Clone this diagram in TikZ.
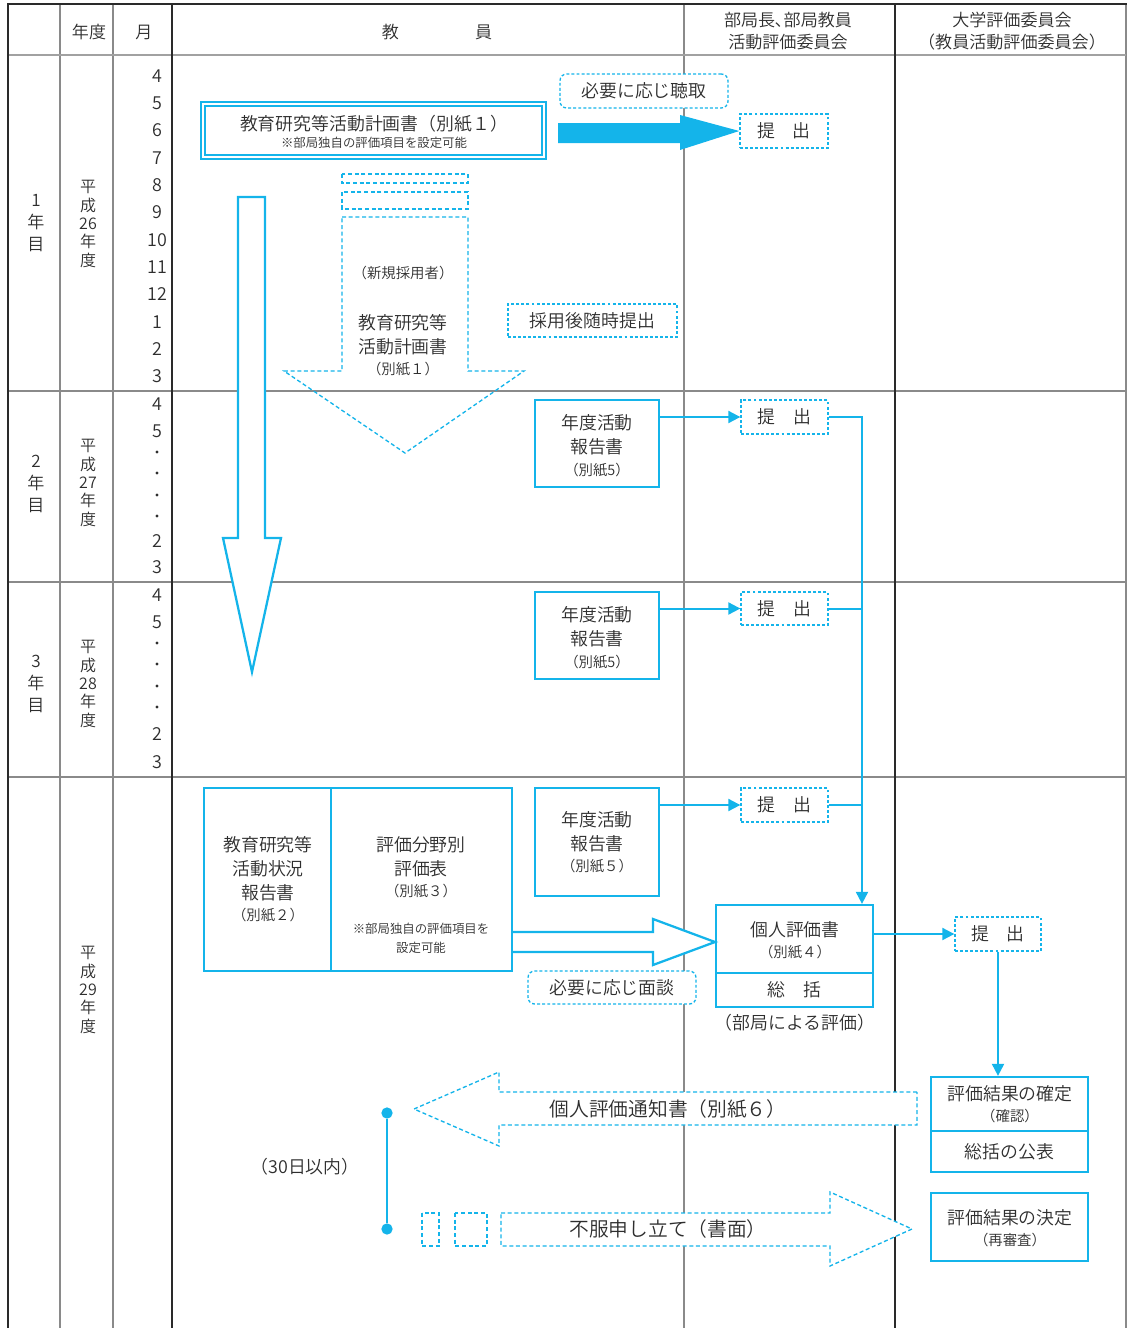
\documentclass[tikz,border=0pt]{standalone}
\usepackage{fontspec}
\setmainfont{Noto Sans CJK JP}[UprightFont=* DemiLight]
\usetikzlibrary{arrows.meta,fit,calc}
\definecolor{cy}{HTML}{14B4EA}
\definecolor{tx}{HTML}{2E2E2E}
\definecolor{gl}{HTML}{8A8A8A}
\definecolor{dk}{HTML}{2A2A2A}
\newcommand\fm{\fontsize{13.4}{18}\selectfont}
\newcommand\fs{\fontsize{10.8}{14}\selectfont}
\newcommand\fxs{\fontsize{9.3}{12}\selectfont}
\newcommand\fl{\fontsize{14.8}{18}\selectfont}
\newcommand\fv{\fontsize{12}{13.8}\selectfont}
\newcommand\fy{\fontsize{12.8}{16.5}\selectfont}
\begin{document}
\begin{tikzpicture}[x=0.75pt,y=-0.75pt,
  every node/.style={text=tx, inner sep=0pt},
  box/.style={draw=cy, line width=1.7pt, fill=white, inner sep=0pt},
  dbox/.style={draw=cy, line width=1pt, dash pattern=on 2.2pt off 1.6pt, fill=white, inner sep=0pt},
  rbox/.style={dbox, rounded corners=5pt},
  darrow/.style={draw=cy, line width=1pt, dash pattern=on 3pt off 2pt},
  conn/.style={draw=cy, line width=1.5pt},
  arr/.style={conn, -{Triangle[length=9pt,width=9pt]}},
  gridline/.style={draw=gl, line width=0.8pt},
  heavy/.style={draw=dk, line width=2.2pt},
  dot/.style={circle, fill=cy, minimum size=8.5pt, inner sep=0pt},
  sdot/.style={circle, fill=tx, minimum size=2.6pt, inner sep=0pt}]
\useasboundingbox (0,0) rectangle (1128,1328);
% grid
\foreach \x in {60,113,684,1126} \draw[gridline] (\x,5) -- (\x,1328);
\draw[draw=gl!80, line width=1.4pt] (8,55) -- (1126,55);
\foreach \y in {391,582,777} \draw[gridline] (8,\y) -- (1126,\y);
\draw[heavy, line width=1.6pt] (8,4) -- (8,1328);
\draw[heavy] (172,4) -- (172,1328);
\draw[heavy] (895,4) -- (895,1328);
\draw[heavy] (7,4) -- (1127,4);
% header
\node[font=\fy] (h1) at (89,32) {年度};
\node[font=\fy] (h2) at (144,32) {月};
\node[font=\fy] (h3) at (437,32) {教\hspace{57pt}員};
\node[align=center, font=\fy] (h4) at (788,31) {部局長､部局教員\\活動評価委員会};
\node[align=center, font=\fy] (h5) at (1012,31) {大学評価委員会\\（教員活動評価委員会）};
% months
\foreach \m/\y in {4/76,5/103,6/130,7/158,8/185,9/212,10/240,11/267,12/294,1/322,2/349,3/376,
  4/404,5/431,2/541,3/567,4/595,5/622,2/734,3/762}
  \node[font=\fm] (m\y) at (157,\y) {\m};
\foreach \y in {452,473,495,516,643,664,686,707} \node[sdot] (s\y) at (157,\y) {};
% year labels
\node[align=center, font=\fy] (y1) at (36,223) {1\\年\\目};
\node[align=center, font=\fy] (y2) at (36,484) {2\\年\\目};
\node[align=center, font=\fy] (y3) at (36,684) {3\\年\\目};
\node[align=center, font=\fv] (n1) at (88,224) {平\\成\\26\\年\\度};
\node[align=center, font=\fv] (n2) at (88,483) {平\\成\\27\\年\\度};
\node[align=center, font=\fv] (n3) at (88,684) {平\\成\\28\\年\\度};
\node[align=center, font=\fv] (n4) at (88,990) {平\\成\\29\\年\\度};
% plan box
\node[box, line width=1.2pt, fit={(201,102)(546,159)}] (planout) {};
\node[box, line width=1.2pt, fit={(205,106)(542,155)}] (plan) {};
\node[font=\fm] (plan1) at (374,124) {教育研究等活動計画書（別紙１）};
\node[font=\fxs] (plan2) at (374,143) {※部局独自の評価項目を設定可能};
\node[rbox, fit={(560,74)(728,108)}] (hear) {};
\node[font=\fm] (heartx) at (hear.center) {必要に応じ聴取};
\node[dbox, fit={(740,114)(828,148)}] (t1) {};
\node[font=\fm] (t1x) at (t1.center) {提　出};
\fill[cy] (558,123) -- (680,123) -- (680,115) -- (t1.west) -- (680,150) -- (680,143) -- (558,143) -- cycle;
% new hire dashed arrow
\draw[darrow] (342,174) rectangle (468,183);
\draw[darrow] (342,192) rectangle (468,209);
\draw[darrow] (342,217) -- (468,217) -- (468,371) -- (524,371) -- (405,453) -- (284,371) -- (342,371) -- cycle;
\node[font=\fs] (sk) at (403,273) {（新規採用者）};
\node[align=center, font=\fm] (skp) at (403,335) {教育研究等\\活動計画書};
\node[font=\fs] (skb) at (403,369) {（別紙１）};
\node[dbox, fit={(508,304)(677,337)}] (zuiji) {};
\node[font=\fm] (zuijix) at (zuiji.center) {採用後随時提出};
% vertical outline arrow
\filldraw[draw=cy, fill=white, line width=1.7pt] (238,197) -- (265,197) -- (265,538) -- (281,538) -- (252,672) -- (223,538) -- (238,538) -- cycle;
% row 2
\coordinate (vx) at (862,0);
\node[box, fit={(535,400)(659,487)}] (r2) {};
\node[align=center, font=\fm] (r2a) at (597,435) {年度活動\\報告書};
\node[font=\fs] (r2b) at (597,470) {（別紙5）};
\node[dbox, fit={(741,400)(828,434)}] (t2) {};
\node[font=\fm] (t2x) at (t2.center) {提　出};
\draw[arr] (r2.east |- t2.west) -- (t2.west);
% row 3
\node[box, fit={(535,592)(659,679)}] (r3) {};
\node[align=center, font=\fm] (r3a) at (597,627) {年度活動\\報告書};
\node[font=\fs] (r3b) at (597,662) {（別紙5）};
\node[dbox, fit={(741,592)(828,625)}] (t3) {};
\node[font=\fm] (t3x) at (t3.center) {提　出};
\draw[arr] (r3.east |- t3.west) -- (t3.west);
% row 4
\node[box, fit={(535,788)(659,896)}] (r4) {};
\node[align=center, font=\fm] (r4a) at (597,832) {年度活動\\報告書};
\node[font=\fs] (r4b) at (597,866) {（別紙５）};
\node[dbox, fit={(741,788)(828,822)}] (t4) {};
\node[font=\fm] (t4x) at (t4.center) {提　出};
\draw[arr] (r4.east |- t4.west) -- (t4.west);
% individual evaluation
\node[box, fit={(716,905)(873,973)}] (ind1) {};
\node[box, fit={(716,973)(873,1007)}] (ind2) {};
\node[font=\fm] (ind2x) at (ind2.center) {総　括};
\node[font=\fm] (ind1a) at (795,930) {個人評価書};
\node[font=\fs] (ind1b) at (795,952) {（別紙４）};
\node[font=\fm] (hyoka) at (795,1023) {（部局による評価）};
\draw[arr] (t2.east) -| (ind1.north -| vx);
\draw[conn] (t3.east) -- (t3.east -| vx);
\draw[conn] (t4.east) -- (t4.east -| vx);
% big box
\node[box, fit={(204,788)(331,971)}] (bigL) {};
\node[box, fit={(331,788)(512,971)}] (bigR) {};
\node[align=center, font=\fm] (bigLa) at (268,869) {教育研究等\\活動状況\\報告書};
\node[font=\fs] (bigLb) at (268,915) {（別紙２）};
\node[align=center, font=\fm] (bigRa) at (421,857) {評価分野別\\評価表};
\node[font=\fs] (bigRb) at (421,891) {（別紙３）};
\node[font=\fxs] (bigRc) at (421,929) {※部局独自の評価項目を};
\node[font=\fxs] (bigRd) at (421,948) {設定可能};
\filldraw[draw=cy, fill=white, line width=1.7pt] (bigR.east |- 0,932) -- (653,932) -- (653,919) -- (715,942) -- (653,965) -- (653,952) -- (bigR.east |- 0,952);
\node[rbox, fit={(528,971)(696,1004)}] (mendan) {};
\node[font=\fm] (mendanx) at (mendan.center) {必要に応じ面談};
% university committee
\node[dbox, fit={(955,917)(1041,951)}] (t5) {};
\node[font=\fm] (t5x) at (t5.center) {提　出};
\draw[arr] (ind1.east |- t5.west) -- (t5.west);
\node[box, fit={(931,1077)(1088,1131)}] (kak1) {};
\node[font=\fm] (kak1a) at (1010,1094) {評価結果の確定};
\node[font=\fs] (kak1b) at (1010,1116) {（確認）};
\node[box, fit={(931,1131)(1088,1172)}] (kak2) {};
\node[font=\fm] (kak2x) at (kak2.center) {総括の公表};
\draw[arr] (t5.south) -- (t5.south |- kak1.north);
\node[box, fit={(931,1193)(1088,1261)}] (ket) {};
\node[font=\fm] (keta) at (1010,1218) {評価結果の決定};
\node[font=\fs] (ketb) at (1010,1240) {（再審査）};
% notification arrows
\filldraw[darrow, fill=white] (917,1092) -- (499,1092) -- (499,1072) -- (414,1109) -- (499,1146) -- (499,1125) -- (917,1125) -- cycle;
\node[font=\fl] (tsuchi) at (668,1109) {個人評価通知書（別紙６）};
\filldraw[darrow, fill=white] (501,1213) -- (830,1213) -- (830,1192) -- (912,1229) -- (830,1266) -- (830,1246) -- (501,1246) -- cycle;
\draw[darrow] (422,1213) rectangle (439,1246);
\draw[darrow] (455,1213) rectangle (487,1246);
\node[font=\fl] (fufuku) at (668,1229) {不服申し立て（書面）};
\node[dot] (d1) at (387,1113) {};
\node[dot] (d2) at (387,1229) {};
\draw[conn, line width=2pt] (d1) -- (d2);
\node[font=\fm] (days) at (305,1167) {（30日以内）};
\end{tikzpicture}
\end{document}
